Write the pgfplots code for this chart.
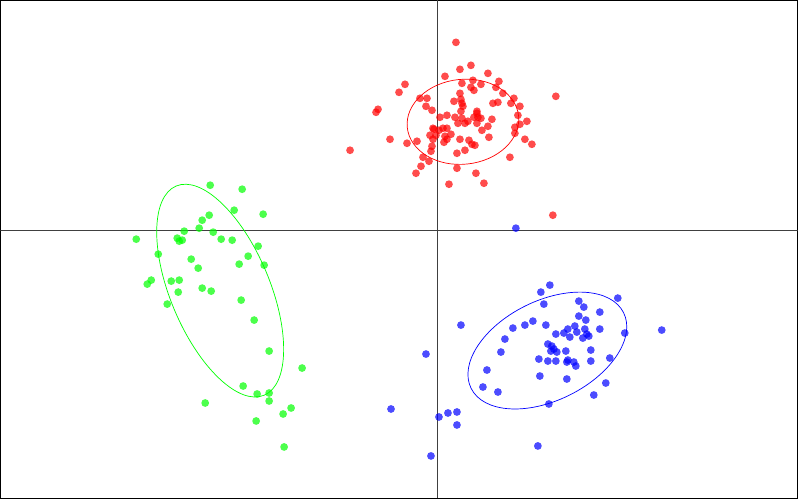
\documentclass[border=0pt]{standalone}
\usepackage{pgfplots}
\pgfplotsset{compat=1.18}
\pgfplotstableread{
x y
456 42
471 65
460 69
488 73
445 76
405 84
399 92
462 83
473 80
499 81
481 84
471 87
474 90
496 87
503 93
460 93
556 96
420 98
427 98
461 99
454 101
462 103
514 98
493 103
498 102
511 103
426 106
463 106
520 106
378 109
376 112
432 110
461 111
477 111
447 115
440 117
455 117
462 118
474 117
478 117
481 118
492 119
518 115
527 121
468 121
458 123
465 123
477 123
488 126
433 128
443 128
447 128
515 127
477 113
520 124
515 133
482 130
434 129
439 130
430 135
436 135
445 136
451 134
447 139
444 142
433 139
432 146
431 151
460 139
469 140
472 144
475 145
489 137
525 139
532 144
390 139
407 143
417 141
350 150
465 150
457 153
423 157
429 161
421 166
416 173
510 157
457 168
476 173
449 184
484 183
553 215
}\reddata
\pgfplotstableread{
x y
210 185
242 189
234 210
263 214
209 215
202 220
184 231
199 228
213 232
177 238
179 241
182 240
136 239
221 239
232 240
258 246
158 254
191 259
248 256
239 264
264 265
198 268
151 280
147 284
171 281
179 280
178 292
202 288
211 291
241 300
167 304
254 320
269 351
302 368
243 386
257 394
269 393
269 401
205 403
291 408
283 414
256 421
284 447
}\greendata
\pgfplotstableread{
x y
516 228
461 325
426 354
391 409
439 417
448 413
457 412
457 425
431 456
513 328
525 325
505 339
501 352
487 370
483 387
498 392
550 285
541 292
618 298
544 304
579 301
584 307
600 312
579 316
586 320
533 321
546 325
556 334
564 333
568 329
575 326
577 332
570 337
585 329
583 338
587 334
589 336
600 329
625 333
662 330
548 344
552 346
554 349
551 351
557 352
566 351
591 350
539 359
548 361
556 361
568 360
567 362
574 362
576 366
591 361
610 358
540 376
567 379
606 383
594 395
549 404
538 446
}\bluedata
\begin{document}
\begin{tikzpicture}
\begin{axis}[
  scale only axis, width=798bp, height=498bp,
  xmin=0, xmax=798, ymin=0, ymax=498, y dir=reverse,
  ticks=none, axis line style={black, line width=0.8bp},
]
\draw[black!75, line width=0.8bp] (axis cs:437,0) -- (axis cs:437,498);
\draw[black!75, line width=0.8bp] (axis cs:0,230) -- (axis cs:798,230);
\addplot[only marks, color=red, mark=*, mark size=3.9pt, mark options={fill=red, draw opacity=0, fill opacity=0.7}] table {\reddata};
\addplot[only marks, color=green, mark=*, mark size=3.9pt, mark options={fill=green, draw opacity=0, fill opacity=0.7}] table {\greendata};
\addplot[only marks, color=blue, mark=*, mark size=3.9pt, mark options={fill=blue, draw opacity=0, fill opacity=0.7}] table {\bluedata};
\draw[red, line width=0.7bp, rotate around={6:(axis cs:463,121.5)}] (axis cs:463,121.5) ellipse [x radius=56bp, y radius=42.5bp];
\draw[green, line width=0.7bp, rotate around={-67.2:(axis cs:220,290.5)}] (axis cs:220,290.5) ellipse [x radius=113.6bp, y radius=49.7bp];
\draw[blue, line width=0.7bp, rotate around={26.35:(axis cs:547.5,350.5)}] (axis cs:547.5,350.5) ellipse [x radius=85.2bp, y radius=49.8bp];
\end{axis}
\end{tikzpicture}
\end{document}
